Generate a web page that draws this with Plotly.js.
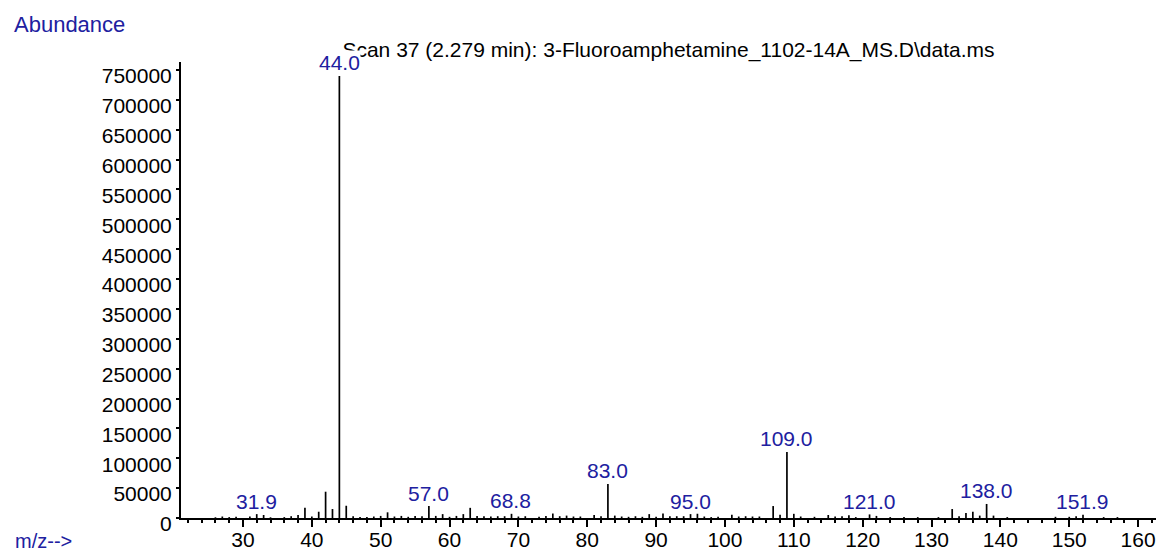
<!DOCTYPE html>
<html>
<head>
<meta charset="utf-8">
<script src="https://cdn.plot.ly/plotly-3.0.1.min.js"></script>
<style>
  html, body { margin: 0; padding: 0; background: #ffffff; }
  #chart { width: 1158px; height: 554px; }
</style>
</head>
<body>
<div id="chart"></div>
<script>
// ---- data ----
const mzValues = [26, 27, 28, 29, 31, 32, 33, 34, 36, 37, 38, 39, 40, 41, 42, 43, 44, 45, 46, 47, 48, 49,
  50, 51, 52, 53, 54, 55, 56, 57, 58, 59, 60, 61, 62, 63, 64, 65, 66, 67, 68, 69, 70, 71, 73, 74, 75,
  76, 77, 78, 79, 81, 82, 83, 84, 85, 86, 87, 88, 89, 90, 91, 92, 93, 94, 95, 96, 97, 98, 99, 101, 102,
  103, 104, 105, 107, 108, 109, 110, 111, 113, 115, 116, 117, 118, 119, 121, 122, 124, 126, 128, 131,
  133, 134, 135, 136, 137, 138, 139, 141, 148, 150, 151, 152, 155, 157];
const abundances = [1200, 2500, 1500, 2000, 2500, 6500, 5000, 1200, 1500, 3000, 5000, 17000, 2500, 10500,
  44000, 15000, 740000, 20500, 3000, 1500, 1500, 2500,
  3500, 9500, 2500, 3500, 2000, 3500, 3000, 20000, 3500, 6500, 2000, 3500, 6500, 17000, 3500, 3000, 2500,
  3000, 3000, 7000, 2500, 3000, 2000, 3500, 7500,
  3000, 4000, 2500, 2500, 5000, 3000, 57000, 4000, 2500, 2000, 3000, 2000, 6500, 2000, 7500, 3000, 3000,
  3000, 6500, 7500, 2500, 1500, 2000, 5500, 2500,
  3000, 2500, 2500, 20000, 5500, 110500, 7000, 2500, 2000, 5000, 2500, 3000, 4500, 1500, 6000, 3500, 1500,
  1500, 1500, 1500,
  15000, 3000, 8500, 10500, 4000, 23500, 4000, 1500, 2000, 2000, 3000, 5500, 1500, 1500];

const labelMz = [31.9, 44.0, 57.0, 68.8, 83.0, 95.0, 109.0, 121.0, 138.0, 151.9];
const labelText = ["31.9", "44.0", "57.0", "68.8", "83.0", "95.0", "109.0", "121.0", "138.0", "151.9"];

const yTickValues = [0, 50000, 100000, 150000, 200000, 250000, 300000, 350000, 400000,
  450000, 500000, 550000, 600000, 650000, 700000, 750000];
const xTickValues = [30, 40, 50, 60, 70, 80, 90, 100, 110, 120, 130, 140, 150, 160];

const titleText = "Scan 37 (2.279 min): 3-Fluoroamphetamine_1102-14A_MS.D\\data.ms";

// ---- build stems ----
const stemX = [], stemY = [];
mzValues.forEach((m, i) => {
  stemX.push(m, m, null);
  stemY.push(0, abundances[i], null);
});

function peakHeightNear(m) {
  let best = 0;
  mzValues.forEach((v, i) => { if (Math.abs(v - Math.round(m)) < 0.01) best = abundances[i]; });
  return best;
}

const FONT = "Liberation Sans, Arial, sans-serif";
const BLUE = "rgb(32,32,160)";
const W = 1158, H = 554;
const margin = { l: 181, r: 2, t: 62, b: 36 };
const pw = W - margin.l - margin.r, ph = H - margin.t - margin.b;
function px2paperX(px) { return (px - margin.l) / pw; }
function px2paperY(py) { return (H - margin.b - py) / ph; }

const annotations = labelMz.map((m, i) => ({
  x: m, y: peakHeightNear(m), xref: "x", yref: "y",
  text: labelText[i], showarrow: false,
  xanchor: "center", yanchor: "middle", yshift: 13,
  bgcolor: "#ffffff", borderpad: 0,
  font: { family: FONT, size: 21, color: BLUE }
}));

annotations.push({
  x: px2paperX(12), y: px2paperY(24), xref: "paper", yref: "paper",
  text: "Abundance", showarrow: false, xanchor: "left", yanchor: "middle",
  font: { family: FONT, size: 22, color: BLUE }
});
annotations.push({
  x: px2paperX(13), y: px2paperY(541), xref: "paper", yref: "paper",
  text: "m/z-->", showarrow: false, xanchor: "left", yanchor: "middle",
  font: { family: FONT, size: 20, color: BLUE }
});

const trace = {
  type: "scatter", mode: "lines", x: stemX, y: stemY,
  line: { color: "#000000", width: 1.7 },
  hoverinfo: "skip", showlegend: false
};

const layout = {
  width: W, height: H,
  margin: margin,
  paper_bgcolor: "#ffffff", plot_bgcolor: "#ffffff",
  showlegend: false,
  title: {
    text: titleText, x: 0.5, xref: "paper", xanchor: "center",
    y: 1 - 50 / H, yref: "container", yanchor: "middle",
    font: { family: FONT, size: 21, color: "#000000" }
  },
  xaxis: {
    range: [21, 162.6], tickvals: xTickValues, ticktext: xTickValues.map(String),
    showline: true, linecolor: "#000000", linewidth: 2,
    ticks: "outside", ticklen: 7, tickwidth: 2, tickcolor: "#000000",
    ticklabelstandoff: -5,
    minor: { dtick: 2, tick0: 0, ticks: "outside", ticklen: 3, tickwidth: 2, tickcolor: "#000000", showgrid: false },
    showgrid: false, zeroline: false,
    tickfont: { family: FONT, size: 21, color: "#000000" }
  },
  yaxis: {
    range: [0, 763300], tickvals: yTickValues, ticktext: yTickValues.map(String),
    showline: true, linecolor: "#000000", linewidth: 2,
    ticks: "outside", ticklen: 3, tickwidth: 2, tickcolor: "#000000",
    ticklabelshift: 6,
    showgrid: false, zeroline: false,
    tickfont: { family: FONT, size: 21, color: "#000000" }
  },
  annotations: annotations
};

Plotly.newPlot("chart", [trace], layout, { displayModeBar: false, staticPlot: true });
</script>
</body>
</html>
